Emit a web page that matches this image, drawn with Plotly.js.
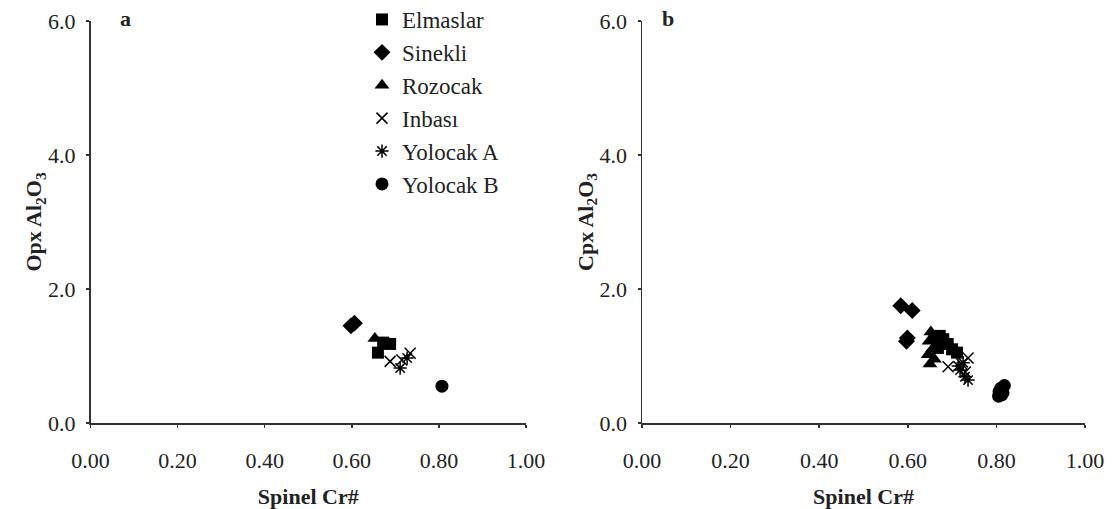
<!DOCTYPE html>
<html>
<head>
<meta charset="utf-8">
<script src="https://cdn.plot.ly/plotly-3.0.1.min.js"></script>
<style>html,body{margin:0;padding:0;background:#fff;}#chart{width:1117px;height:509px;}</style>
</head>
<body>
<div id="chart"></div>
<script>
// Panel a: Spinel Cr# vs Opx Al2O3
const seriesNames = ["Elmaslar", "Sinekli", "Rozocak", "Inbası", "Yolocak A", "Yolocak B"];
const seriesSymbols = ["square", "diamond", "triangle-up", "x-thin-open", "asterisk-open", "circle"];

const opxElmaslarX = [0.660, 0.672, 0.688];
const opxElmaslarY = [1.05, 1.20, 1.18];
const opxSinekliX = [0.598, 0.606];
const opxSinekliY = [1.45, 1.49];
const opxRozocakX = [0.653];
const opxRozocakY = [1.26];
const opxInbasiX = [0.688, 0.715, 0.734];
const opxInbasiY = [0.92, 0.94, 1.04];
const opxYolocakAX = [0.711, 0.727];
const opxYolocakAY = [0.82, 0.97];
const opxYolocakBX = [0.807];
const opxYolocakBY = [0.55];

// Panel b: Spinel Cr# vs Cpx Al2O3
const cpxElmaslarX = [0.660, 0.672, 0.680, 0.690, 0.700, 0.711, 0.668];
const cpxElmaslarY = [1.28, 1.30, 1.25, 1.18, 1.10, 1.05, 1.12];
const cpxSinekliX = [0.584, 0.610, 0.599, 0.597];
const cpxSinekliY = [1.75, 1.68, 1.27, 1.22];
const cpxRozocakX = [0.652, 0.648, 0.655, 0.646, 0.660, 0.650];
const cpxRozocakY = [1.36, 1.22, 1.10, 1.02, 0.95, 0.88];
const cpxInbasiX = [0.691, 0.736, 0.722, 0.730];
const cpxInbasiY = [0.84, 0.97, 0.88, 0.76];
const cpxYolocakAX = [0.718, 0.729, 0.736, 0.725, 0.714];
const cpxYolocakAY = [0.79, 0.69, 0.64, 0.90, 0.85];
const cpxYolocakBX = [0.805, 0.815, 0.810, 0.818, 0.806, 0.812];
const cpxYolocakBY = [0.40, 0.45, 0.52, 0.56, 0.47, 0.42];

const xTickVals = [0, 0.2, 0.4, 0.6, 0.8, 1.0];
const xTickText = ["0.00", "0.20", "0.40", "0.60", "0.80", "1.00"];
const yTickVals = [0, 2, 4, 6];
const yTickText = ["0.0", "2.0", "4.0", "6.0"];

const opxData = [[opxElmaslarX, opxElmaslarY], [opxSinekliX, opxSinekliY], [opxRozocakX, opxRozocakY],
                 [opxInbasiX, opxInbasiY], [opxYolocakAX, opxYolocakAY], [opxYolocakBX, opxYolocakBY]];
const cpxData = [[cpxElmaslarX, cpxElmaslarY], [cpxSinekliX, cpxSinekliY], [cpxRozocakX, cpxRozocakY],
                 [cpxInbasiX, cpxInbasiY], [cpxYolocakAX, cpxYolocakAY], [cpxYolocakBX, cpxYolocakBY]];

const markerSizes = [12, 13, 13, 11, 11, 13];

function mk(i, d, xa, ya, show) {
  const openSym = seriesSymbols[i].indexOf("open") >= 0;
  return {
    type: "scatter", mode: "markers", name: seriesNames[i],
    x: d[0], y: d[1], xaxis: xa, yaxis: ya, showlegend: show,
    legendgroup: "g" + i,
    marker: {
      symbol: seriesSymbols[i], size: markerSizes[i], color: "#000",
      line: {color: "#000", width: openSym ? 1.5 : 0}
    }
  };
}

const traces = [];
opxData.forEach((d, i) => traces.push(mk(i, d, "x", "y", true)));
cpxData.forEach((d, i) => traces.push(mk(i, d, "x2", "y2", false)));

const fam = "'Liberation Serif', 'Times New Roman', Times, serif";
const font = {family: fam, size: 22, color: "#222"};
const legendFont = {family: fam, size: 23, color: "#222"};
const H = 509, W = 1117;
const yDom = [(H - 423) / H, (H - 21) / H];

function xax(dom) {
  return {
    domain: dom, range: [0, 1], tickvals: xTickVals, ticktext: xTickText,
    showgrid: false, zeroline: false, showline: true, linecolor: "#333", linewidth: 1.5,
    ticks: "outside", ticklen: 3, tickcolor: "#333", tickwidth: 1.5,
    ticklabelstandoff: 14, tickfont: font, fixedrange: true,
    title: {text: "<b>Spinel Cr#</b>", font: font, standoff: 18}
  };
}
function yax(dom, anchor, label) {
  return {
    domain: dom, range: [0, 6], tickvals: yTickVals, ticktext: yTickText, anchor: anchor,
    showgrid: false, zeroline: false, showline: true, linecolor: "#333", linewidth: 1.5,
    ticks: "outside", ticklen: 3, tickcolor: "#333", tickwidth: 1.5,
    ticklabelstandoff: 6, tickfont: font, fixedrange: true,
    title: {text: label, font: font, standoff: 0}
  };
}

const layout = {
  width: W, height: H,
  margin: {l: 0, r: 0, t: 0, b: 0, autoexpand: false},
  paper_bgcolor: "#fff", plot_bgcolor: "#fff",
  font: font,
  showlegend: true,
  legend: {
    x: 362 / W, y: 1 + 2 / H, xanchor: "left", yanchor: "top",
    bgcolor: "rgba(0,0,0,0)", borderwidth: 0,
    font: legendFont, tracegroupgap: 0, itemwidth: 30
  },
  xaxis: Object.assign(xax([90.5 / W, 526 / W]), {anchor: "y"}),
  yaxis: yax(yDom, "x", "<b>Opx Al<sub>2</sub>O<sub>3</sub></b>"),
  xaxis2: Object.assign(xax([642 / W, 1085 / W]), {anchor: "y2"}),
  yaxis2: yax(yDom, "x2", "<b>Cpx Al<sub>2</sub>O<sub>3</sub></b>"),
  annotations: [
    {text: "<b>a</b>", xref: "paper", yref: "paper", x: 125 / W, y: 1 - 18 / H, showarrow: false, font: font, xanchor: "center", yanchor: "middle"},
    {text: "<b>b</b>", xref: "paper", yref: "paper", x: 668 / W, y: 1 - 18 / H, showarrow: false, font: font, xanchor: "center", yanchor: "middle"}
  ]
};

Plotly.newPlot("chart", traces, layout, {displayModeBar: false, staticPlot: true});
</script>
</body>
</html>
